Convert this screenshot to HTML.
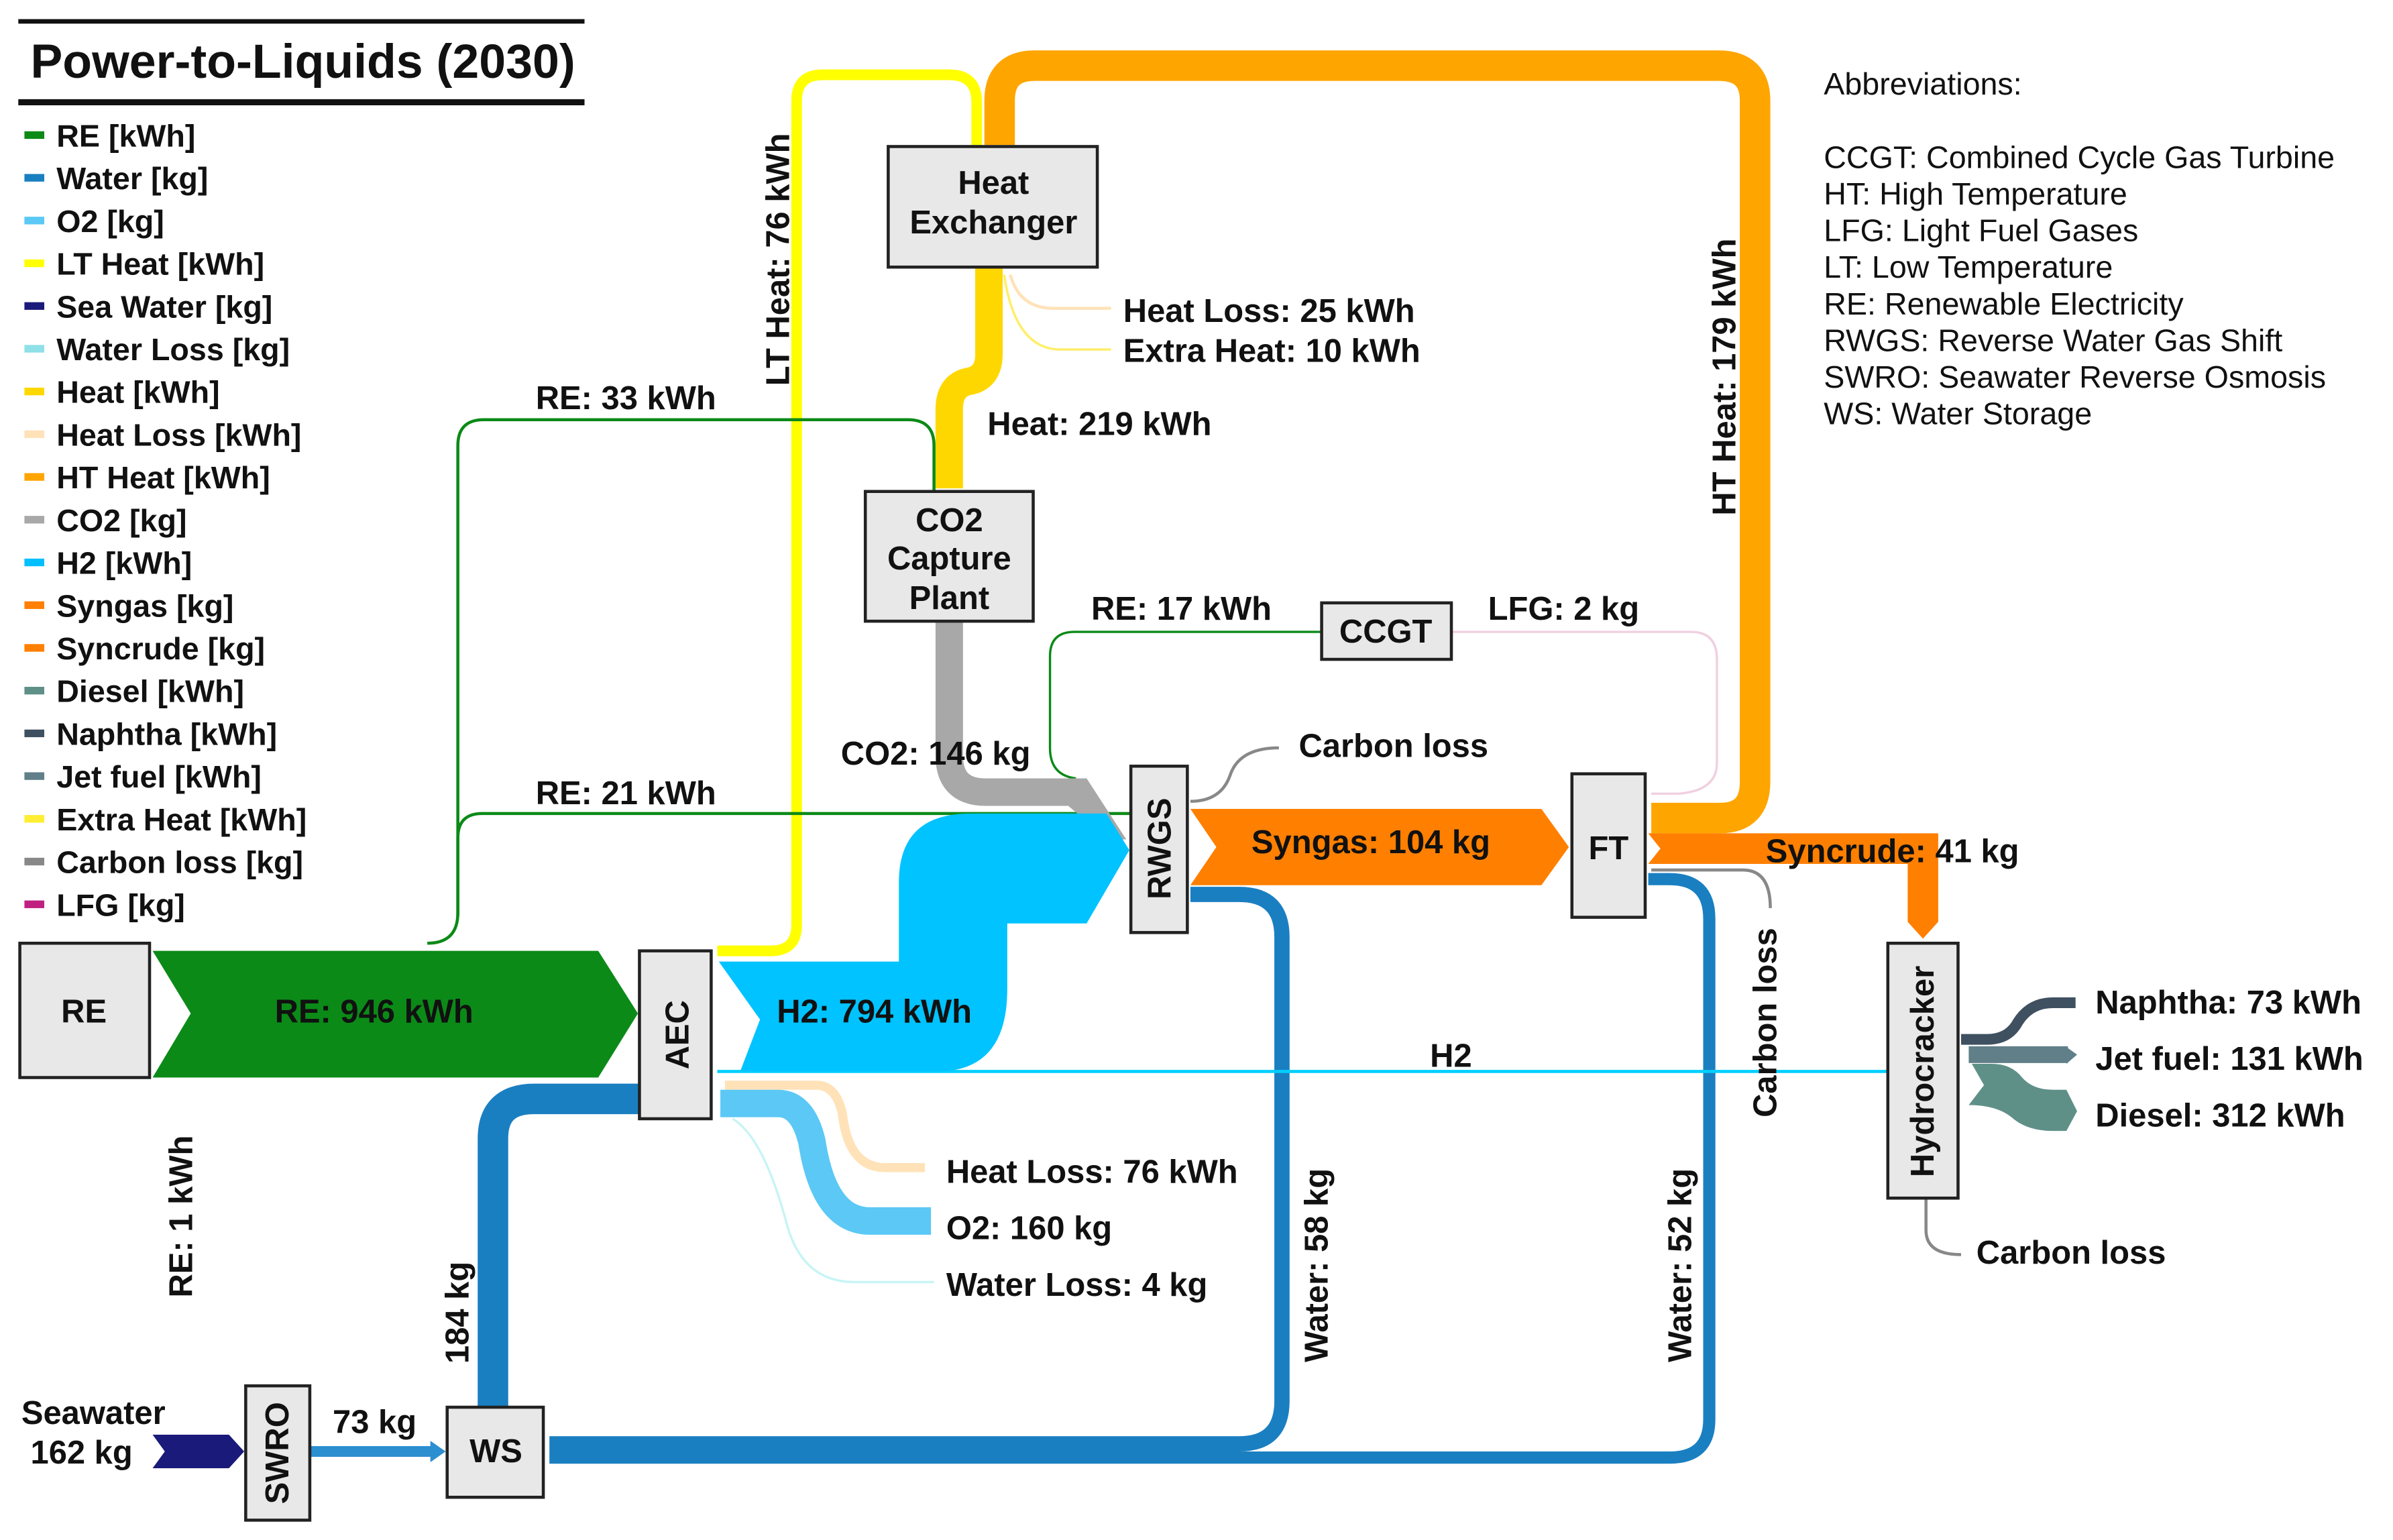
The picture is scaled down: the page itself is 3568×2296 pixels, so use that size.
<!DOCTYPE html>
<html><head><meta charset="utf-8"><style>
html,body{margin:0;padding:0;background:#fff;}
svg{display:block;}
text{font-family:"Liberation Sans",Arial,sans-serif;}
.b{font-weight:bold;font-size:21.5px;fill:#111;}
.n{font-size:20.5px;fill:#111;}
.box{fill:#e8e8e8;stroke:#222;stroke-width:2;}
</style></head><body>
<svg width="3568" height="2296" viewBox="0 0 1568 1009" xmlns="http://www.w3.org/2000/svg">
<line x1="12" y1="14" x2="383" y2="14" stroke="#111" stroke-width="3"/>
<line x1="12" y1="67" x2="383" y2="67" stroke="#111" stroke-width="4"/>
<text x="20" y="51" style="font-weight:bold;font-size:31.5px;fill:#111">Power-to-Liquids (2030)</text>
<g class="b" style="font-size:20.5px">
<rect x="16" y="86" width="13" height="5" fill="#0b8a17"/><text x="37" y="96">RE [kWh]</text>
<rect x="16" y="114" width="13" height="5" fill="#1a7fc1"/><text x="37" y="124">Water [kg]</text>
<rect x="16" y="142" width="13" height="5" fill="#5bc8f5"/><text x="37" y="152">O2 [kg]</text>
<rect x="16" y="170" width="13" height="5" fill="#ffff00"/><text x="37" y="180">LT Heat [kWh]</text>
<rect x="16" y="198" width="13" height="5" fill="#1a1a7a"/><text x="37" y="208">Sea Water [kg]</text>
<rect x="16" y="226" width="13" height="5" fill="#8fe0e8"/><text x="37" y="236">Water Loss [kg]</text>
<rect x="16" y="254" width="13" height="5" fill="#ffd700"/><text x="37" y="264">Heat [kWh]</text>
<rect x="16" y="282" width="13" height="5" fill="#ffe2b8"/><text x="37" y="292">Heat Loss [kWh]</text>
<rect x="16" y="310" width="13" height="5" fill="#ffa500"/><text x="37" y="320">HT Heat [kWh]</text>
<rect x="16" y="338" width="13" height="5" fill="#a8a8a8"/><text x="37" y="348">CO2 [kg]</text>
<rect x="16" y="366" width="13" height="5" fill="#00bfff"/><text x="37" y="376">H2 [kWh]</text>
<rect x="16" y="394" width="13" height="5" fill="#ff7f00"/><text x="37" y="404">Syngas [kg]</text>
<rect x="16" y="422" width="13" height="5" fill="#ff7f00"/><text x="37" y="432">Syncrude [kg]</text>
<rect x="16" y="450" width="13" height="5" fill="#5f9088"/><text x="37" y="460">Diesel [kWh]</text>
<rect x="16" y="478" width="13" height="5" fill="#3f5060"/><text x="37" y="488">Naphtha [kWh]</text>
<rect x="16" y="506" width="13" height="5" fill="#607f88"/><text x="37" y="516">Jet fuel [kWh]</text>
<rect x="16" y="534" width="13" height="5" fill="#ffee33"/><text x="37" y="544">Extra Heat [kWh]</text>
<rect x="16" y="562" width="13" height="5" fill="#888"/><text x="37" y="572">Carbon loss [kg]</text>
<rect x="16" y="590" width="13" height="5" fill="#c02080"/><text x="37" y="600">LFG [kg]</text>
</g>
<g class="n">
<text x="1195" y="62">Abbreviations:</text>
<text x="1195" y="110">CCGT: Combined Cycle Gas Turbine</text>
<text x="1195" y="134">HT: High Temperature</text>
<text x="1195" y="158">LFG: Light Fuel Gases</text>
<text x="1195" y="182">LT: Low Temperature</text>
<text x="1195" y="206">RE: Renewable Electricity</text>
<text x="1195" y="230">RWGS: Reverse Water Gas Shift</text>
<text x="1195" y="254">SWRO: Seawater Reverse Osmosis</text>
<text x="1195" y="278">WS: Water Storage</text>
</g>
<g fill="none">
<path d="M1082 536 H1127 Q1150 536 1150 512 V66 Q1150 43 1126 43 H678 Q655 43 655 66 V95" stroke="#ffa500" stroke-width="20"/>
<path d="M470 623 H505 Q522 623 522 606 V66 Q522 49 539 49 H622 Q640 49 640 67 V95" stroke="#ffff00" stroke-width="7"/>
<path d="M648 176 V232 Q648 248 634 250 Q622 253 622 268 V320" stroke="#ffd700" stroke-width="18"/>
<path d="M662 180 Q668 202 690 202 H728" stroke="#ffe2b8" stroke-width="2"/>
<path d="M658 180 Q665 229 695 229 H728" stroke="#ffee66" stroke-width="1.5"/>
<path d="M280 618 Q300 618 300 598 V292 Q300 275 317 275 H595 Q612 275 612 292 V322" stroke="#0b8a17" stroke-width="2"/>
<path d="M300 600 V549 Q300 533 316 533 H742" stroke="#0b8a17" stroke-width="2"/>
<path d="M866 414 H704 Q688 414 688 430 V490 Q688 508 705 510" stroke="#0b8a17" stroke-width="1.5"/>
<path d="M951 414 H1108 Q1125 414 1125 432 V500 Q1125 518 1100 520 H1082" stroke="#f0d0e0" stroke-width="1.5"/>
<path d="M622 407 V495 Q622 519 646 519 H705" stroke="#a8a8a8" stroke-width="18"/>
<path d="M780 525 Q800 525 806 508 Q812 490 838 490" stroke="#888" stroke-width="2"/>
<path d="M780 586 H812 Q840 586 840 614 V918 Q840 946 812 946 H360" stroke="#1a7fc1" stroke-width="10"/>
<path d="M1080 576 H1094 Q1120 576 1120 602 V930 Q1120 955 1094 955 H360" stroke="#1a7fc1" stroke-width="8"/>
<path d="M323 922 V746 Q323 720 350 720 H419" stroke="#1a7fc1" stroke-width="20"/>
<path d="M203 951 H284" stroke="#2b8fd0" stroke-width="7"/>
<path d="M470 702 H1237" stroke="#00cfff" stroke-width="2"/>
<path d="M1082 570 H1142 Q1160 570 1160 595" stroke="#888" stroke-width="2"/>
<path d="M1262 786 V806 Q1262 822 1285 822" stroke="#888" stroke-width="2"/>
<path d="M475 711 H535 Q548 711 552 730 Q556 765 580 765 H606" stroke="#ffe2b8" stroke-width="6"/>
<path d="M472 723 H510 Q526 723 532 748 Q540 800 570 800 H610" stroke="#5bc8f5" stroke-width="18"/>
<path d="M480 733 Q500 745 515 800 Q525 840 560 840 H612" stroke="#c8f4f4" stroke-width="1.5"/>
<path d="M1285 681 H1302 Q1316 681 1322 670 Q1330 657 1345 657 H1360" stroke="#3f5060" stroke-width="7"/>
<path d="M1290 691 H1355" stroke="#607f88" stroke-width="11"/>
</g>
<polygon points="700,510 712,510 738,550 726,550 700,528" fill="#a8a8a8"/>
<polygon points="282,944 292,951 282,958" fill="#2b8fd0"/>
<path d="M1292 697 H1305 Q1318 697 1325 706 Q1332 714 1345 714 H1354 L1361 728 L1354 741 H1345 Q1328 741 1318 732 Q1308 724 1290 724 L1300 711 Z" fill="#5f9088"/>
<polygon points="1354,686 1361,691 1354,697" fill="#607f88"/>
<polygon points="100,623 392,623 418,664 392,706 100,706 125,664" fill="#0b8a17"/>
<path d="M471 630 H589 V578 Q589 533 636 533 H725 L740 557 L712 605 H660 V648 Q660 702 614 702 H485 L498 668 Z" fill="#00c3ff"/>
<polygon points="780,530 1010,530 1028,555 1010,580 780,580 797,555" fill="#ff7f00"/>
<path d="M1080 546 H1270 V604 L1260 615 L1250 604 V566 H1080 L1088 556 Z" fill="#ff7f00"/>
<polygon points="100,940 150,940 160,951 150,962 100,962 108,951" fill="#1a1a7a"/>
<rect class="box" x="13" y="618" width="85" height="88"/>
<text class="b" x="55" y="670" text-anchor="middle">RE</text>
<rect class="box" x="419" y="623" width="47" height="110"/>
<text class="b" transform="translate(451,678) rotate(-90)" text-anchor="middle">AEC</text>
<rect class="box" x="582" y="96" width="137" height="79"/>
<text class="b" x="651" y="127" text-anchor="middle">Heat</text>
<text class="b" x="651" y="153" text-anchor="middle">Exchanger</text>
<rect class="box" x="567" y="322" width="110" height="85"/>
<text class="b" x="622" y="348" text-anchor="middle">CO2</text>
<text class="b" x="622" y="373" text-anchor="middle">Capture</text>
<text class="b" x="622" y="399" text-anchor="middle">Plant</text>
<rect class="box" x="866" y="395" width="85" height="37"/>
<text class="b" x="908" y="421" text-anchor="middle">CCGT</text>
<rect class="box" x="741" y="502" width="37" height="109"/>
<text class="b" transform="translate(767,556) rotate(-90)" text-anchor="middle">RWGS</text>
<rect class="box" x="1030" y="507" width="48" height="94"/>
<text class="b" x="1054" y="563" text-anchor="middle">FT</text>
<rect class="box" x="1237" y="618" width="46" height="167"/>
<text class="b" transform="translate(1267,702) rotate(-90)" text-anchor="middle">Hydrocracker</text>
<rect class="box" x="161" y="908" width="42" height="88"/>
<text class="b" transform="translate(189,952) rotate(-90)" text-anchor="middle">SWRO</text>
<rect class="box" x="293" y="922" width="63" height="59"/>
<text class="b" x="325" y="958" text-anchor="middle">WS</text>
<g class="b">
<text x="180" y="670">RE: 946 kWh</text>
<text x="509" y="670">H2: 794 kWh</text>
<text x="820" y="559">Syngas: 104 kg</text>
<text x="1157" y="565">Syncrude: 41 kg</text>
<text x="736" y="211">Heat Loss: 25 kWh</text>
<text x="736" y="237">Extra Heat: 10 kWh</text>
<text x="647" y="285">Heat: 219 kWh</text>
<text x="351" y="268">RE: 33 kWh</text>
<text x="351" y="527">RE: 21 kWh</text>
<text x="715" y="406">RE: 17 kWh</text>
<text x="975" y="406">LFG: 2 kg</text>
<text x="551" y="501">CO2: 146 kg</text>
<text x="851" y="496">Carbon loss</text>
<text x="937" y="699">H2</text>
<text x="620" y="775">Heat Loss: 76 kWh</text>
<text x="620" y="812">O2: 160 kg</text>
<text x="620" y="849">Water Loss: 4 kg</text>
<text x="1373" y="664">Naphtha: 73 kWh</text>
<text x="1373" y="701">Jet fuel: 131 kWh</text>
<text x="1373" y="738">Diesel: 312 kWh</text>
<text x="1295" y="828">Carbon loss</text>
<text x="14" y="933">Seawater</text>
<text x="20" y="959">162 kg</text>
<text x="218" y="939">73 kg</text>
<text transform="translate(517,170) rotate(-90)" text-anchor="middle">LT Heat: 76 kWh</text>
<text transform="translate(1137,247) rotate(-90)" text-anchor="middle">HT Heat: 179 kWh</text>
<text transform="translate(126,797) rotate(-90)" text-anchor="middle">RE: 1 kWh</text>
<text transform="translate(307,860) rotate(-90)" text-anchor="middle">184 kg</text>
<text transform="translate(870,829) rotate(-90)" text-anchor="middle">Water: 58 kg</text>
<text transform="translate(1108,829) rotate(-90)" text-anchor="middle">Water: 52 kg</text>
<text transform="translate(1164,670) rotate(-90)" text-anchor="middle">Carbon loss</text>
</g>
</svg>
</body></html>
